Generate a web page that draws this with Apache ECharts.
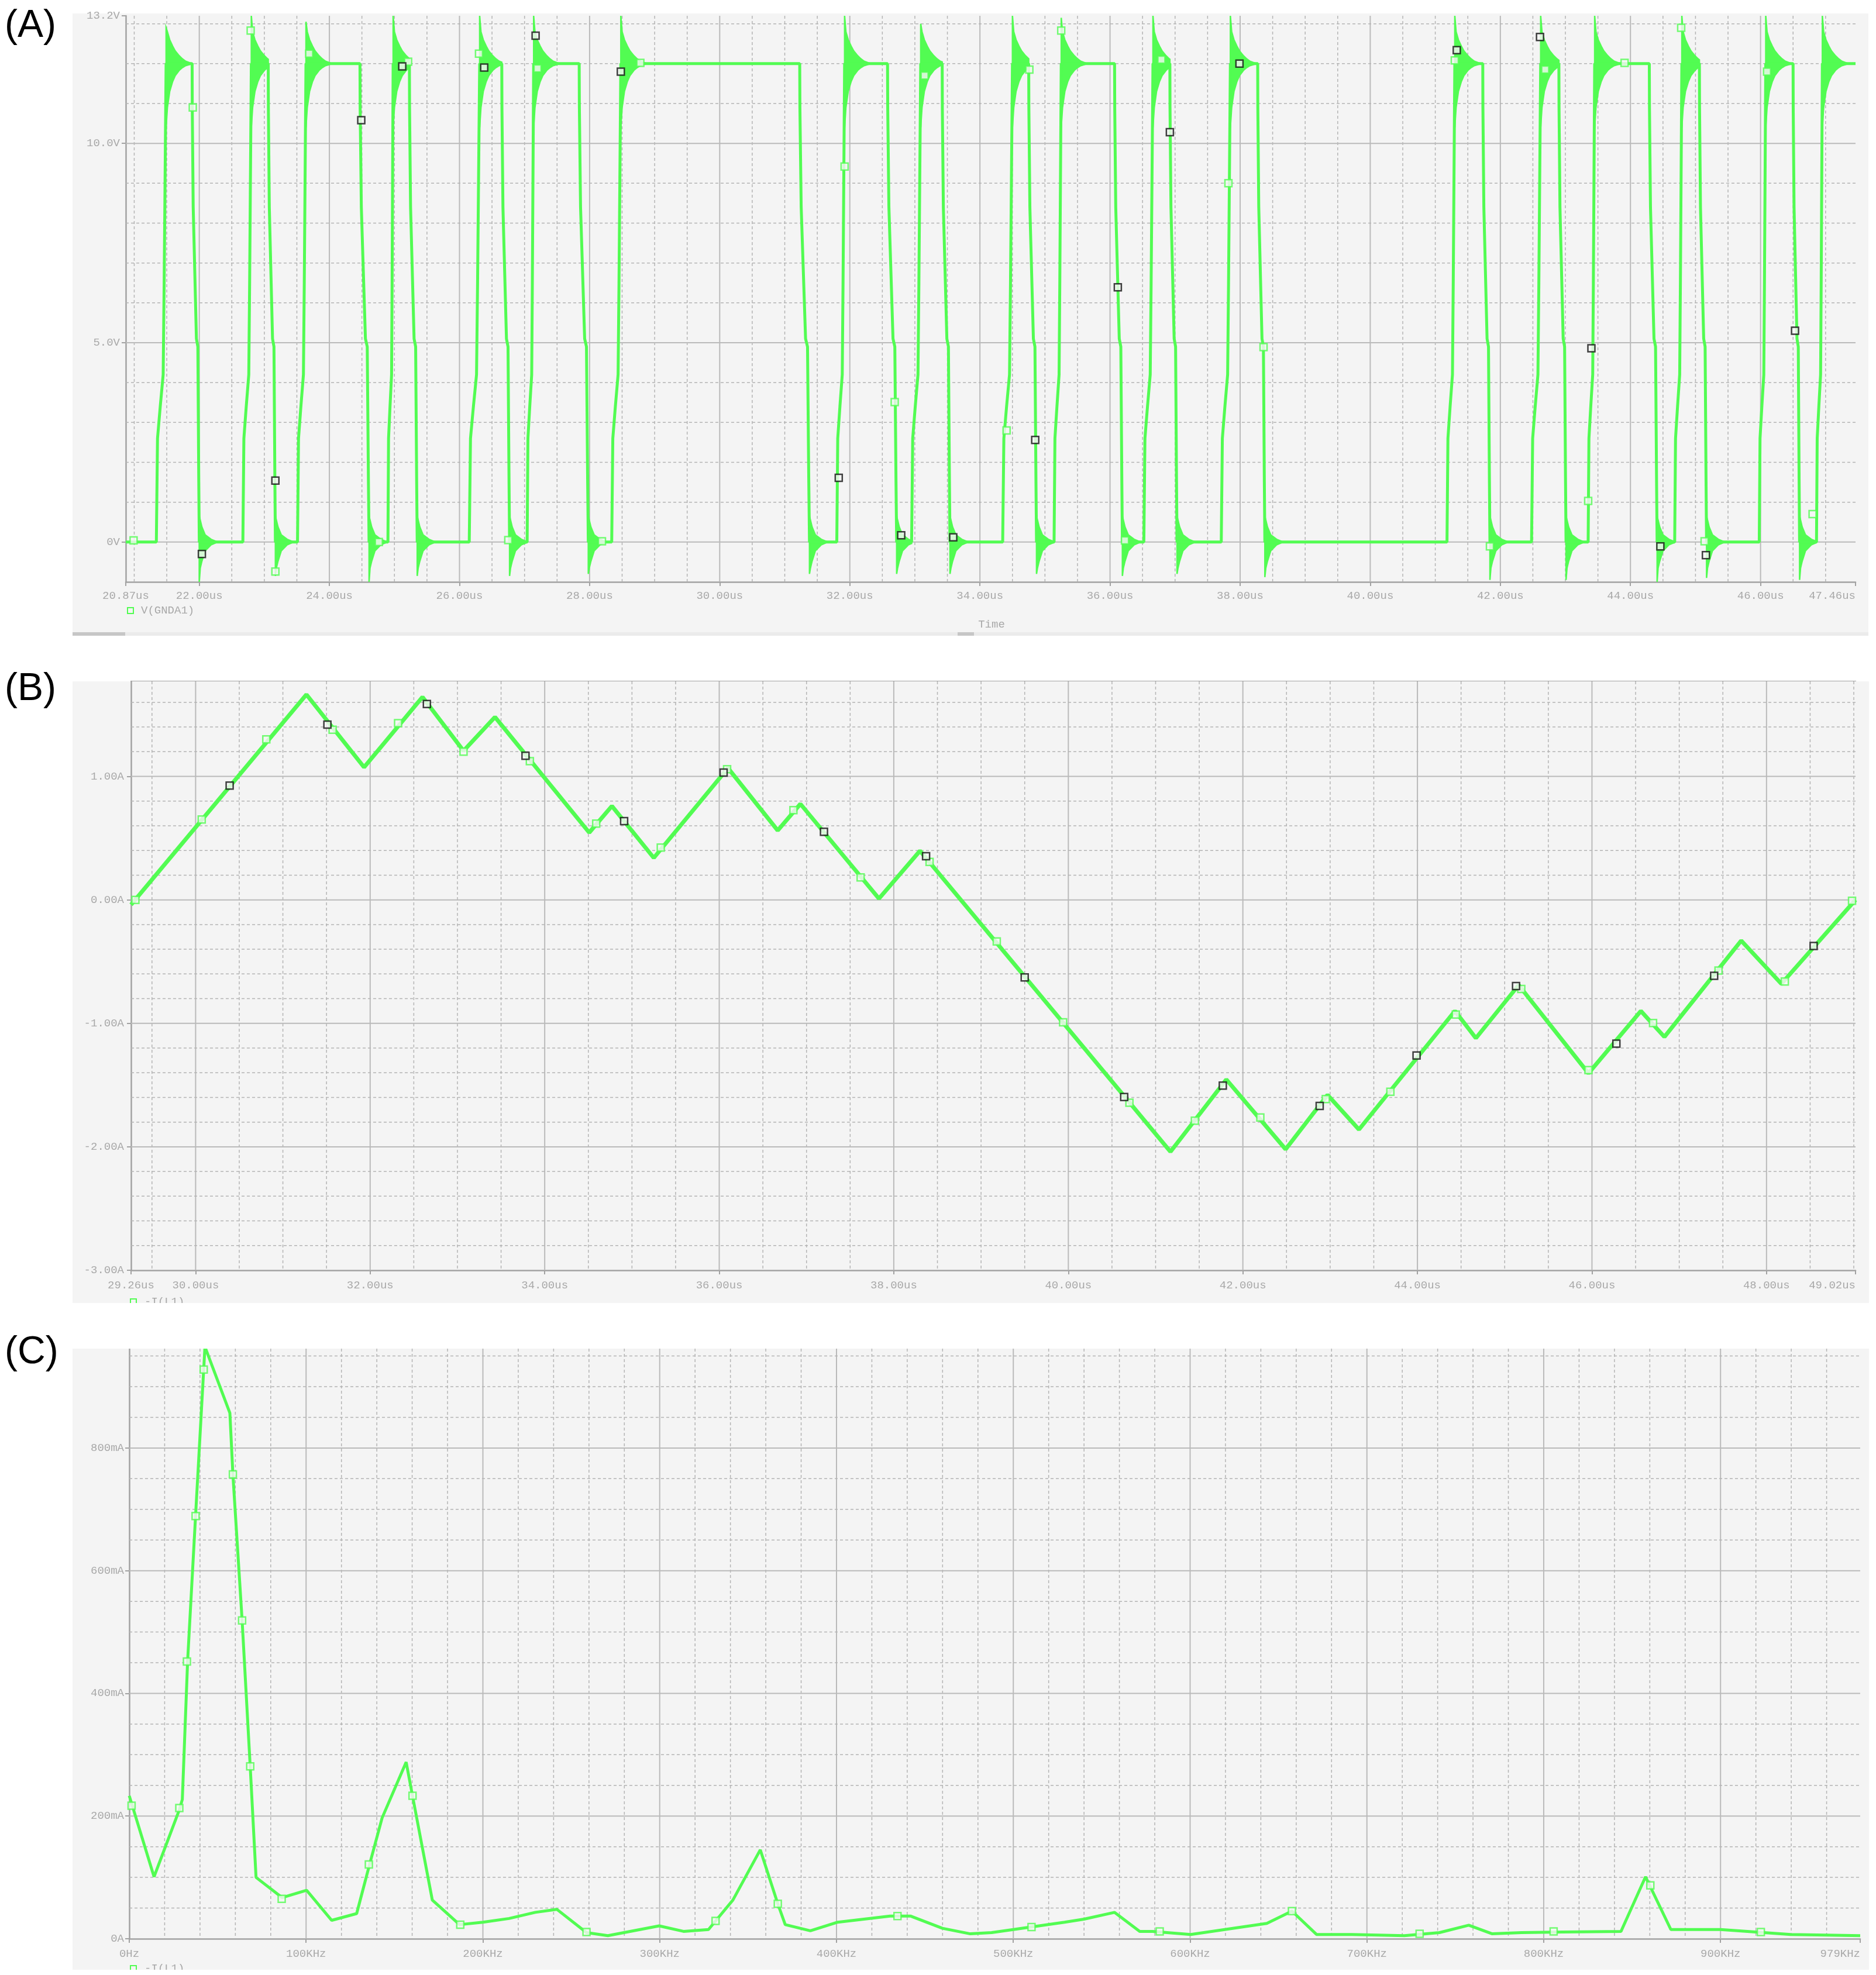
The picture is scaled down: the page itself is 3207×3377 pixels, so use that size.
<!DOCTYPE html>
<html>
<head>
<meta charset="utf-8">
<script src="https://cdn.jsdelivr.net/npm/echarts@6/dist/echarts.min.js"></script>
<style>
html,body{margin:0;padding:0;background:#ffffff;}
#chart{width:3207px;height:3377px;}
</style>
</head>
<body>
<div id="chart"></div>
<script>
// ---------------- Panel A : V(GNDA1) switching node ----------------
const aXRange = [20.87, 47.46];
const aYRange = [-1, 13.2];
const aXTickValues = [20.87, 22, 24, 26, 28, 30, 32, 34, 36, 38, 40, 42, 44, 46, 47.46];
const aXTickLabels = ['20.87us','22.00us','24.00us','26.00us','28.00us','30.00us','32.00us','34.00us','36.00us','38.00us','40.00us','42.00us','44.00us','46.00us','47.46us'];
const aYTickValues = [0, 5, 10, 13.2];
const aYTickLabels = ['0V', '5.0V', '10.0V', '13.2V'];
const aLowLevel = 0;
const aHighLevel = 12;
const aRiseStart = [21.34, 22.67, 23.51, 24.90, 26.15, 27.04, 28.34, 31.80, 32.95, 34.35, 35.14, 36.52, 37.71, 41.18, 42.48, 43.35, 44.68, 45.98, 46.86];
const aRiseTop   = [21.49, 22.80, 23.64, 24.98, 26.31, 27.14, 28.48, 31.92, 33.09, 34.50, 35.25, 36.66, 37.85, 41.30, 42.62, 43.45, 44.79, 46.08, 46.95];
const aRisePeak  = [12.9, 13.4, 13.05, 13.4, 13.4, 13.4, 13.4, 13.4, 13.0, 13.4, 13.15, 13.4, 13.4, 13.4, 13.4, 13.4, 13.4, 13.4, 13.4];
const aFallStart = [21.89, 23.06, 24.47, 25.23, 26.65, 27.84, 31.23, 32.58, 33.42, 34.75, 36.07, 36.92, 38.27, 41.73, 42.90, 44.29, 45.06, 46.50];
const aFallEnd   = [22.00, 23.17, 24.61, 25.35, 26.77, 27.98, 31.38, 32.72, 33.54, 34.87, 36.19, 37.03, 38.38, 41.84, 43.01, 44.41, 45.17, 46.60];
const aFallTrough = [-1.0, -0.85, -1.05, -0.85, -0.85, -0.8, -0.8, -0.8, -0.8, -0.8, -0.85, -0.8, -0.88, -0.95, -0.95, -1.0, -0.9, -0.95];
// edge shapes (fraction of edge duration -> volts)
const aRiseShapeFrac = [0, 0.12, 0.4, 0.7, 0.8, 1];
const aRiseShapeVolt = [0, 2.6, 3.4, 4.2, 6.5, 12];
const aFallShapeFrac = [0, 0.02, 0.15, 0.6, 0.8, 0.93, 1];
const aFallShapeVolt = [12, 10.9, 8.4, 5.1, 4.9, 1.5, 0];
// ringing envelopes (us after edge -> volts)
const aHighRingOffset = [0, 0.02, 0.055, 0.1, 0.14, 0.2, 0.25, 0.3, 0.4];
const aHighRingUpper  = [13.0, 12.8, 12.6, 12.44, 12.32, 12.2, 12.12, 12.06, 12.0];
const aHighRingLower  = [10.4, 10.9, 11.3, 11.55, 11.7, 11.83, 11.9, 11.95, 12.0];
const aLowRingOffset = [0, 0.015, 0.04, 0.09, 0.18, 0.28];
const aLowRingUpper  = [0.65, 0.55, 0.38, 0.18, 0.07, 0];
const aLowRingLower  = [-1.0, -0.65, -0.48, -0.22, -0.07, 0];
const aBlackMarkT = [22.04, 23.17, 24.49, 25.12, 26.38, 27.17, 28.48, 31.83, 32.79, 33.59, 34.85, 36.12, 36.92, 37.99, 41.33, 42.61, 43.40, 44.46, 45.16, 46.53];
const aBlackMarkV = [-0.3, 1.54, 10.58, 11.93, 11.9, 12.7, 11.8, 1.61, 0.17, 0.12, 2.56, 6.39, 10.28, 12.0, 12.34, 12.67, 4.86, -0.11, -0.33, 5.3];
const aGreenMarkT = [20.99, 21.9, 22.79, 23.17, 23.69, 24.76, 25.21, 26.3, 26.75, 27.2, 28.19, 28.78, 31.92, 32.69, 33.15, 34.41, 34.76, 35.25, 36.23, 36.79, 37.82, 38.36, 41.3, 41.84, 42.69, 43.35, 43.91, 44.78, 45.14, 46.1, 46.8];
const aGreenMarkV = [0.04, 10.9, 12.83, -0.74, 12.25, 0, 12.05, 12.25, 0.05, 11.88, 0.02, 12.02, 9.42, 3.51, 11.7, 2.8, 11.85, 12.83, 0.04, 12.1, 9.0, 4.89, 12.08, -0.11, 11.85, 1.03, 12.02, 12.9, 0.02, 11.8, 0.7];

// ---------------- Panel B : -I(L1) vs time ----------------
const bXRange = [29.26, 49.02];
const bYRange = [-3, 1.77];
const bXTickValues = [29.26, 30, 32, 34, 36, 38, 40, 42, 44, 46, 48, 49.02];
const bXTickLabels = ['29.26us','30.00us','32.00us','34.00us','36.00us','38.00us','40.00us','42.00us','44.00us','46.00us','48.00us','49.02us'];
const bYTickValues = [-3, -2, -1, 0, 1];
const bYTickLabels = ['-3.00A', '-2.00A', '-1.00A', '0.00A', '1.00A'];
const bTime = [29.26, 31.27, 31.93, 32.60, 33.07, 33.43, 34.51, 34.77, 35.25, 36.10, 36.67, 36.93, 37.83, 38.30, 41.17, 41.81, 42.49, 42.97, 43.33, 44.43, 44.67, 45.16, 45.96, 46.56, 46.83, 47.71, 48.17, 49.02];
const bCurrent = [-0.04, 1.663, 1.074, 1.643, 1.207, 1.481, 0.545, 0.76, 0.34, 1.068, 0.562, 0.777, 0.01, 0.397, -2.04, -1.455, -2.02, -1.58, -1.86, -0.9, -1.12, -0.69, -1.405, -0.9, -1.11, -0.33, -0.68, 0.0];
const bBlackMarkT = [30.39, 31.51, 32.65, 33.78, 34.91, 36.05, 37.2, 38.37, 39.5, 40.64, 41.77, 42.88, 43.99, 45.13, 46.28, 47.4, 48.54];
const bBlackMarkI = [0.926, 1.42, 1.587, 1.167, 0.638, 1.031, 0.552, 0.354, -0.628, -1.597, -1.504, -1.669, -1.26, -0.698, -1.164, -0.615, -0.374];
const bGreenMarkT = [29.31, 30.07, 30.81, 31.57, 32.32, 33.07, 33.83, 34.59, 35.33, 36.09, 36.85, 37.62, 38.41, 39.18, 39.94, 40.7, 41.45, 42.2, 42.95, 43.69, 44.44, 45.19, 45.96, 46.7, 47.45, 48.21, 48.98];
const bGreenMarkI = [0.0, 0.651, 1.3, 1.378, 1.431, 1.2, 1.124, 0.618, 0.423, 1.058, 0.727, 0.182, 0.307, -0.337, -0.992, -1.643, -1.788, -1.762, -1.613, -1.554, -0.929, -0.721, -1.379, -0.998, -0.572, -0.661, -0.007];

// ---------------- Panel C : spectrum of -I(L1) ----------------
const cXRange = [0, 979];
const cYRange = [0, 962];
const cXTickValues = [0, 100, 200, 300, 400, 500, 600, 700, 800, 900, 979];
const cXTickLabels = ['0Hz','100KHz','200KHz','300KHz','400KHz','500KHz','600KHz','700KHz','800KHz','900KHz','979KHz'];
const cYTickValues = [0, 200, 400, 600, 800];
const cYTickLabels = ['0A', '200mA', '400mA', '600mA', '800mA'];
const cFreqKHz = [0, 14, 28.3, 30, 33, 37.5, 42.8, 56.9, 58.6, 63.8, 68.4, 71.7, 86.5, 100.3, 114.5, 128.6, 135.9, 143, 156.6, 160.2, 171.4, 186.8, 200, 214.8, 229.6, 241.8, 258.6, 270.7, 299.7, 313.5, 327.6, 341.4, 356.9, 366.8, 371, 385.2, 400.7, 430.3, 441.8, 459.9, 475.7, 487.7, 500, 529, 540, 557.3, 571.5, 578.8, 600.3, 643.4, 657.6, 671.5, 691.4, 721.2, 741, 757.6, 770.9, 787.4, 810.6, 843.7, 857.6, 871.9, 900, 919.9, 939.7, 979];
const cAmpMilliA = [233, 101, 210, 227, 453, 690, 965, 857, 757, 520, 281, 100, 67, 79, 30, 41, 121, 197, 288, 233, 63, 23, 27, 33, 43, 48, 10, 5, 21, 12, 15, 63, 145, 57, 23, 13, 27, 37, 37, 17, 8, 10, 15, 27, 32, 43, 12, 12, 7, 25, 45, 7, 7, 5, 10, 22, 8, 10, 11, 12, 101, 15, 15, 11, 7, 5];
const cGreenMarkF = [1.3, 28.3, 32.6, 37.5, 42.1, 58.6, 63.8, 68.4, 86.2, 135.5, 160.2, 187.2, 258.6, 331.6, 366.8, 434.5, 510.3, 582.8, 657.6, 729.8, 805.6, 860.3, 922.8];
const cGreenMarkA = [217, 213, 452, 689, 928, 757, 519, 281, 65, 121, 233, 23, 11, 29, 57, 37, 19, 12, 45, 8, 12, 87, 11];

// ---------------- styling ----------------
const GREEN = '#52fc52';
const TXT = '#a8a8a8';
const AXIS = '#a2a2a2';
const GRIDMAJ = '#bababa';
const GRIDMIN = '#b4b4b4';
const PANEL = '#f4f4f4';
const FONT = 'Liberation Mono';

function zip(a, b) { return a.map((v, i) => [v, b[i]]); }
function lookup(vals, labels) {
  return function (v) {
    for (let i = 0; i < vals.length; i++) if (Math.abs(vals[i] - v) < 1e-6) return labels[i];
    return '';
  };
}
function stepValues(lo, hi, step, skipEvery) {
  const out = [];
  const n0 = Math.ceil(lo / step - 1e-9), n1 = Math.floor(hi / step + 1e-9);
  for (let n = n0; n <= n1; n++) {
    const v = +(n * step).toFixed(6);
    if (v <= lo + 1e-9 || v >= hi - 1e-9) continue;
    if (skipEvery && Math.abs(v / skipEvery - Math.round(v / skipEvery)) < 1e-6) continue;
    out.push(v);
  }
  return out;
}

// build the switching-node trace from edge times
function buildSwitchTrace() {
  const pts = [[aXRange[0], aLowLevel]];
  for (let i = 0; i < aRiseStart.length; i++) {
    const rs = aRiseStart[i], rt = aRiseTop[i];
    aRiseShapeFrac.forEach((f, k) => pts.push([rs + f * (rt - rs), aRiseShapeVolt[k]]));
    if (i < aFallStart.length) {
      const fs = aFallStart[i], fe = aFallEnd[i];
      aFallShapeFrac.forEach((f, k) => pts.push([fs + f * (fe - fs), aFallShapeVolt[k]]));
    }
  }
  pts.push([aXRange[1], aHighLevel]);
  return pts;
}
function buildRings() {
  const rings = [];
  for (let i = 0; i < aRiseTop.length; i++) {
    const cut = i < aFallStart.length ? aFallStart[i] : aXRange[1];
    rings.push([aRiseTop[i], cut, aRisePeak[i], 0]);
  }
  for (let i = 0; i < aFallEnd.length; i++) {
    const cut = i + 1 < aRiseStart.length ? aRiseStart[i + 1] : aXRange[1];
    rings.push([aFallEnd[i], cut, aFallTrough[i], 1]);
  }
  return rings;
}
function renderRing(params, api) {
  const t0 = api.value(0), t1 = api.value(1), ext = api.value(2), kind = api.value(3);
  const off = kind === 0 ? aHighRingOffset : aLowRingOffset;
  const up = (kind === 0 ? aHighRingUpper : aLowRingUpper).slice();
  const lo = (kind === 0 ? aHighRingLower : aLowRingLower).slice();
  if (kind === 0) up[0] = ext; else lo[0] = ext;
  const dur = t1 - t0;
  const U = [], L = [];
  for (let k = 0; k < off.length; k++) {
    if (off[k] > dur) {
      const r = (dur - off[k - 1]) / (off[k] - off[k - 1]);
      U.push([t0 + dur, up[k - 1] + r * (up[k] - up[k - 1])]);
      L.push([t0 + dur, lo[k - 1] + r * (lo[k] - lo[k - 1])]);
      break;
    }
    U.push([t0 + off[k], up[k]]);
    L.push([t0 + off[k], lo[k]]);
  }
  const clamp = v => Math.max(aYRange[0], Math.min(aYRange[1], v));
  const pts = U.concat(L.reverse()).map(p => api.coord([p[0], clamp(p[1])]));
  return { type: 'polygon', shape: { points: pts }, style: { fill: GREEN, stroke: GREEN, lineWidth: 2.5 } };
}

function gridLineData(xr, yr, xMaj, xMin, yMaj, yMin) {
  const d = [];
  xMaj.forEach(v => d.push([v, yr[0], 0]));
  xMin.forEach(v => d.push([v, yr[0], 1]));
  yMaj.forEach(v => d.push([xr[0], v, 2]));
  yMin.forEach(v => d.push([xr[0], v, 3]));
  return d;
}
function renderGridLine(params, api) {
  const cs = params.coordSys;
  const kind = api.value(2);
  const p = api.coord([api.value(0), api.value(1)]);
  let shape;
  if (kind < 2) shape = { x1: p[0], y1: cs.y, x2: p[0], y2: cs.y + cs.height };
  else shape = { x1: cs.x, y1: p[1], x2: cs.x + cs.width, y2: p[1] };
  const major = kind === 0 || kind === 2;
  return {
    type: 'line', shape: shape,
    style: { stroke: major ? GRIDMAJ : GRIDMIN, lineWidth: major ? 2 : 1.5, lineDash: major ? null : [5, 4] }
  };
}
function gridSeries(gi, data) {
  return {
    type: 'custom', xAxisIndex: gi, yAxisIndex: gi, silent: true, z: 1,
    renderItem: renderGridLine, data: data, encode: { x: 0, y: 1 }, animation: false
  };
}
function xAxisOpt(gi, range, vals, labels, margin) {
  return {
    type: 'value', gridIndex: gi, min: range[0], max: range[1],
    axisLine: { show: true, onZero: false, lineStyle: { color: AXIS, width: 2.5 } },
    axisTick: { show: true, customValues: vals, length: 7, lineStyle: { color: AXIS, width: 2 } },
    axisLabel: {
      customValues: vals, formatter: lookup(vals, labels), color: TXT, fontFamily: FONT,
      fontSize: 19, margin: margin, showMinLabel: true, showMaxLabel: true, alignMaxLabel: 'right', hideOverlap: false
    },
    splitLine: { show: false }, minorSplitLine: { show: false }
  };
}
function yAxisOpt(gi, range, vals, labels, margin) {
  return {
    type: 'value', gridIndex: gi, min: range[0], max: range[1],
    axisLine: { show: true, onZero: false, lineStyle: { color: AXIS, width: 2.5 } },
    axisTick: { show: true, customValues: vals, length: 7, lineStyle: { color: AXIS, width: 2 } },
    axisLabel: {
      customValues: vals, formatter: lookup(vals, labels), color: TXT, fontFamily: FONT,
      fontSize: 19, margin: margin, showMinLabel: true, showMaxLabel: true, hideOverlap: false
    },
    splitLine: { show: false }
  };
}
function markerSeries(gi, data, border) {
  return {
    type: 'scatter', xAxisIndex: gi, yAxisIndex: gi, data: data, symbol: 'rect', symbolSize: 12, z: 6,
    itemStyle: { color: '#f6f6f6', borderColor: border, borderWidth: 2.5 }, silent: true, animation: false
  };
}

const chart = echarts.init(document.getElementById('chart'), null, { renderer: 'canvas' });

const option = {
  backgroundColor: '#ffffff',
  animation: false,
  grid: [
    { left: 215, top: 27, width: 2957, height: 968, show: true, borderColor: AXIS, borderWidth: 2, backgroundColor: 'transparent', containLabel: false, outerBoundsMode: 'none' },
    { left: 224, top: 1165, width: 2948, height: 1007, show: true, borderColor: AXIS, borderWidth: 2, backgroundColor: 'transparent', containLabel: false, outerBoundsMode: 'none' },
    { left: 221, top: 2306, width: 2959, height: 1009, show: true, borderColor: AXIS, borderWidth: 2, backgroundColor: 'transparent', containLabel: false, outerBoundsMode: 'none' }
  ],
  xAxis: [
    xAxisOpt(0, aXRange, aXTickValues, aXTickLabels, 14),
    xAxisOpt(1, bXRange, bXTickValues, bXTickLabels, 16),
    xAxisOpt(2, cXRange, cXTickValues, cXTickLabels, 16)
  ],
  yAxis: [
    yAxisOpt(0, aYRange, aYTickValues, aYTickLabels, 10),
    yAxisOpt(1, bYRange, bYTickValues, bYTickLabels, 12),
    yAxisOpt(2, cYRange, cYTickValues, cYTickLabels, 9)
  ],
  series: [
    gridSeries(0, gridLineData(aXRange, aYRange, stepValues(aXRange[0], aXRange[1], 2), stepValues(aXRange[0], aXRange[1], 0.5, 2), stepValues(aYRange[0], aYRange[1], 5), stepValues(aYRange[0], aYRange[1], 1, 5))),
    gridSeries(1, gridLineData(bXRange, bYRange, stepValues(bXRange[0], bXRange[1], 2), stepValues(bXRange[0], bXRange[1], 0.5, 2), stepValues(bYRange[0], bYRange[1], 1), stepValues(bYRange[0], bYRange[1], 0.2, 1))),
    gridSeries(2, gridLineData(cXRange, cYRange, stepValues(cXRange[0], cXRange[1], 100), stepValues(cXRange[0], cXRange[1], 20, 100), stepValues(cYRange[0], cYRange[1], 200), stepValues(cYRange[0], cYRange[1], 50, 200))),
    {
      type: 'line', xAxisIndex: 0, yAxisIndex: 0, data: buildSwitchTrace(), showSymbol: false, z: 3,
      lineStyle: { color: GREEN, width: 5 }, clip: true, animation: false, silent: true
    },
    {
      type: 'custom', xAxisIndex: 0, yAxisIndex: 0, data: buildRings(), renderItem: renderRing, z: 3,
      encode: { x: [0, 1], y: 2 }, silent: true, animation: false
    },
    markerSeries(0, zip(aGreenMarkT, aGreenMarkV), GREEN),
    markerSeries(0, zip(aBlackMarkT, aBlackMarkV), '#111111'),
    {
      type: 'line', xAxisIndex: 1, yAxisIndex: 1, data: zip(bTime, bCurrent), showSymbol: false, z: 3,
      lineStyle: { color: GREEN, width: 7 }, clip: true, animation: false, silent: true
    },
    markerSeries(1, zip(bGreenMarkT, bGreenMarkI), GREEN),
    markerSeries(1, zip(bBlackMarkT, bBlackMarkI), '#111111'),
    {
      type: 'line', xAxisIndex: 2, yAxisIndex: 2, data: zip(cFreqKHz, cAmpMilliA), showSymbol: false, z: 3,
      lineStyle: { color: GREEN, width: 5 }, clip: true, animation: false, silent: true
    },
    markerSeries(2, zip(cGreenMarkF, cGreenMarkA), GREEN)
  ],
  graphic: {
    z: -10,
    elements: [
      { type: 'rect', z: 0, shape: { x: 124, y: 23, width: 3070, height: 1058 }, style: { fill: PANEL } },
      { type: 'rect', z: 1, shape: { x: 124, y: 1081, width: 3070, height: 6 }, style: { fill: '#ebebeb' } },
      { type: 'rect', z: 2, shape: { x: 124, y: 1081, width: 90, height: 6 }, style: { fill: '#c6c6c6' } },
      { type: 'rect', z: 2, shape: { x: 1637, y: 1081, width: 28, height: 6 }, style: { fill: '#c6c6c6' } },
      { type: 'rect', z: 0, shape: { x: 124, y: 1165, width: 3071, height: 1063 }, style: { fill: PANEL } },
      { type: 'rect', z: 0, shape: { x: 124, y: 2306, width: 3071, height: 1062 }, style: { fill: PANEL } },
      // trace legends
      { type: 'rect', z: 5, shape: { x: 218, y: 1039, width: 10, height: 10 }, style: { fill: 'none', stroke: GREEN, lineWidth: 2 } },
      { type: 'text', z: 5, x: 241, y: 1044, style: { text: 'V(GNDA1)', font: '19px "Liberation Mono"', fill: TXT, verticalAlign: 'middle' } },
      { type: 'text', z: 5, x: 1695, y: 1068, style: { text: 'Time', font: '19px "Liberation Mono"', fill: TXT, align: 'center', verticalAlign: 'middle' } },
      { type: 'rect', z: 5, shape: { x: 223, y: 2221, width: 10, height: 10 }, style: { fill: 'none', stroke: GREEN, lineWidth: 2 } },
      { type: 'text', z: 5, x: 247, y: 2226, style: { text: '-I(L1)', font: '19px "Liberation Mono"', fill: TXT, verticalAlign: 'middle' } },
      { type: 'rect', z: 5, shape: { x: 223, y: 3361, width: 10, height: 10 }, style: { fill: 'none', stroke: GREEN, lineWidth: 2 } },
      { type: 'text', z: 5, x: 247, y: 3366, style: { text: '-I(L1)', font: '19px "Liberation Mono"', fill: TXT, verticalAlign: 'middle' } },
      // white margins that cut the clipped legends
      { type: 'rect', z: 9, shape: { x: 0, y: 2228, width: 3207, height: 78 }, style: { fill: '#ffffff' } },
      { type: 'rect', z: 9, shape: { x: 0, y: 3368, width: 3207, height: 9 }, style: { fill: '#ffffff' } },
      // panel tags (on top of everything)
      { type: 'text', z: 20, x: 8, y: 12, style: { text: '(A)', font: '66px "Liberation Sans", Arial, sans-serif', fill: '#000000' } },
      { type: 'text', z: 20, x: 8, y: 1146, style: { text: '(B)', font: '66px "Liberation Sans", Arial, sans-serif', fill: '#000000' } },
      { type: 'text', z: 20, x: 8, y: 2280, style: { text: '(C)', font: '66px "Liberation Sans", Arial, sans-serif', fill: '#000000' } }
    ]
  }
};
chart.setOption(option);
</script>
</body>
</html>
